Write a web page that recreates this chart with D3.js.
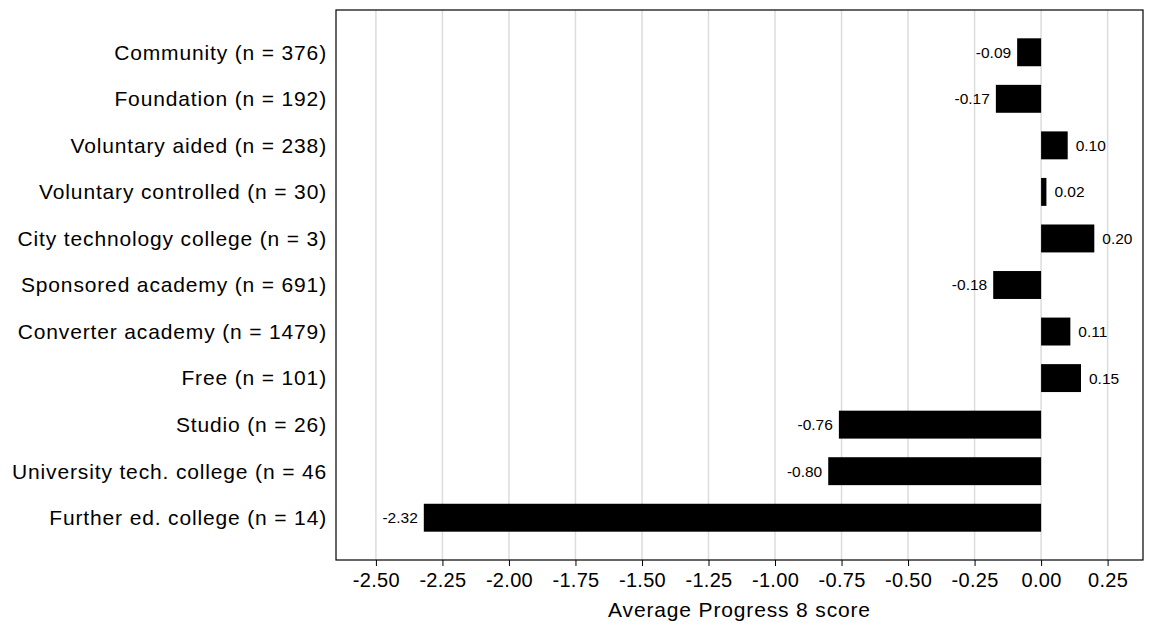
<!DOCTYPE html>
<html><head><meta charset="utf-8">
<script src="https://cdn.jsdelivr.net/npm/d3@7"></script>
<style>body{margin:0;background:#fff}svg{font-family:Arial,"Liberation Sans",sans-serif}</style>
</head><body><svg id="c" width="1149" height="628"></svg>
<script>
var categories = ["Community (n = 376)","Foundation (n = 192)","Voluntary aided (n = 238)","Voluntary controlled (n = 30)","City technology college (n = 3)","Sponsored academy (n = 691)","Converter academy (n = 1479)","Free (n = 101)","Studio (n = 26)","University tech. college (n = 46","Further ed. college (n = 14)"];
var values = [-0.09,-0.17,0.10,0.02,0.20,-0.18,0.11,0.15,-0.76,-0.80,-2.32];
var ticks = [-2.5,-2.25,-2,-1.75,-1.5,-1.25,-1,-0.75,-0.5,-0.25,0,0.25];

var svg = d3.select('#c');
var L = 336, R = 1143, T = 10, B = 560;
var x = d3.scaleLinear().domain([-2.65, 0.383]).range([L, R]);
var y = d3.scaleBand().domain(categories).range([29, 541]).paddingInner(0.4).paddingOuter(0.2);

// gridlines
svg.selectAll('.g').data(ticks).enter().append('line')
    .attr('x1', d => x(d)).attr('x2', d => x(d)).attr('y1', T).attr('y2', B)
    .attr('stroke', '#dcdcdc').attr('stroke-width', 1.5);

// bars
svg.selectAll('.b').data(values).enter().append('rect')
    .attr('x', d => x(Math.min(0, d)))
    .attr('width', d => Math.abs(x(d) - x(0)))
    .attr('y', (d, i) => y(categories[i]))
    .attr('height', y.bandwidth())
    .attr('fill', '#000');

// value labels
svg.selectAll('.v').data(values).enter().append('text')
    .attr('x', d => d < 0 ? x(d) - 6 : x(d) + 8)
    .attr('y', (d, i) => y(categories[i]) + y.bandwidth() / 2)
    .attr('dy', '0.35em')
    .attr('text-anchor', d => d < 0 ? 'end' : 'start')
    .attr('font-size', 15.5)
    .text(d => d.toFixed(2));

// category labels
svg.selectAll('.c').data(categories).enter().append('text')
    .attr('x', L - 9).attr('y', d => y(d) + y.bandwidth() / 2)
    .attr('dy', '0.35em').attr('text-anchor', 'end').attr('font-size', 21)
    .attr('letter-spacing', 0.85)
    .text(d => d);

// frame
svg.append('rect').attr('x', L).attr('y', T).attr('width', R - L).attr('height', B - T)
    .attr('fill', 'none').attr('stroke', '#000').attr('stroke-width', 1.2);

// x axis
var ax = svg.append('g').attr('transform', 'translate(0,' + B + ')')
    .call(d3.axisBottom(x).tickValues(ticks).tickFormat(d3.format('.2f')).tickSize(6).tickSizeOuter(0));
ax.select('.domain').remove();
ax.selectAll('text').attr('font-size', 20).attr('letter-spacing', 0.3).attr('font-family', 'Arial,"Liberation Sans",sans-serif').attr('fill', '#000').attr('dy', '0.9em')
    .text(d => d < 0 ? '-' + d3.format('.2f')(-d) : d3.format('.2f')(d));

svg.append('text').attr('x', (L + R) / 2).attr('y', 617).attr('text-anchor', 'middle')
    .attr('font-size', 21).attr('letter-spacing', 0.85).text('Average Progress 8 score');
</script></body></html>
